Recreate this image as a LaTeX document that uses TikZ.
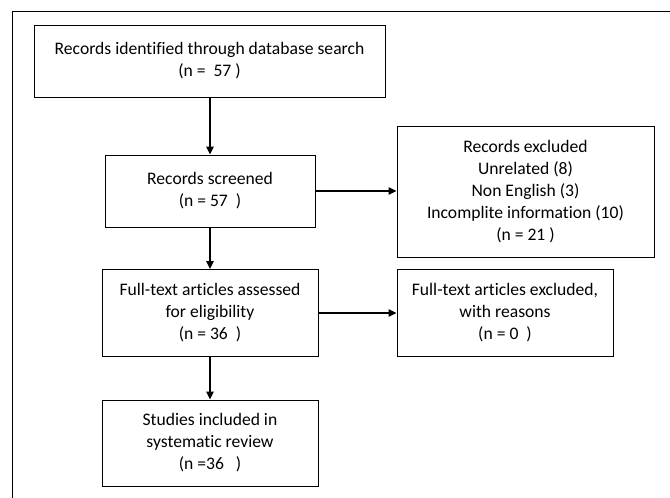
\documentclass[tikz,border=0pt]{standalone}
\usepackage{fontspec}
\setmainfont{Carlito}[Ligatures=NoCommon]
\usetikzlibrary{arrows.meta}

\begin{document}
\begin{tikzpicture}[x=1pt, y=-1pt,
    >={Triangle[length=8pt,width=7.5pt]},
    box/.style = {
      draw,
      line width = 0.9pt,
      align = center,
      inner sep = 0pt,
      font = \fontsize{17.6}{22}\selectfont
    },
    flow/.style = {
      ->,
      line width = 1.3pt
    }
  ]
  \useasboundingbox (0,0) rectangle (670,498);

  % open outer frame
  \draw[line width=0.9pt] (12,498) -- (12,11) -- (670,11);

  \node[box, minimum width=351pt, minimum height=72pt] (ident) at (209.5,61)
    {Records identified through database search\\(n = \ 57 )};
  \node[box, minimum width=210pt, minimum height=72pt] (screen) at (210,191)
    {Records screened\\(n = 57 \ )};
  \node[box, minimum width=257pt, minimum height=131pt] (excl) at (525.5,191.5)
    {Records excluded\\Unrelated (8)\\Non English (3)\\Incomplite information (10)\\(n = 21 )};
  \node[box, minimum width=216pt, minimum height=87pt] (full) at (210,313)
    {Full-text articles assessed\\for eligibility\\(n = 36 \ )};
  \node[box, minimum width=216pt, minimum height=87pt] (fexcl) at (505,313)
    {Full-text articles excluded,\\with reasons\\(n = 0 \ )};
  \node[box, minimum width=216pt, minimum height=86pt] (incl) at (210,443)
    {Studies included in\\systematic review\\(n =36 \ \ )};

  \draw[flow] (ident.south -| screen.north) -- (screen.north);
  \draw[flow] (screen.east) -- (excl.west |- screen.east);
  \draw[flow] (screen.south) -- (full.north);
  \draw[flow] (full.east) -- (fexcl.west);
  \draw[flow] (full.south) -- (incl.north);
\end{tikzpicture}
\end{document}
